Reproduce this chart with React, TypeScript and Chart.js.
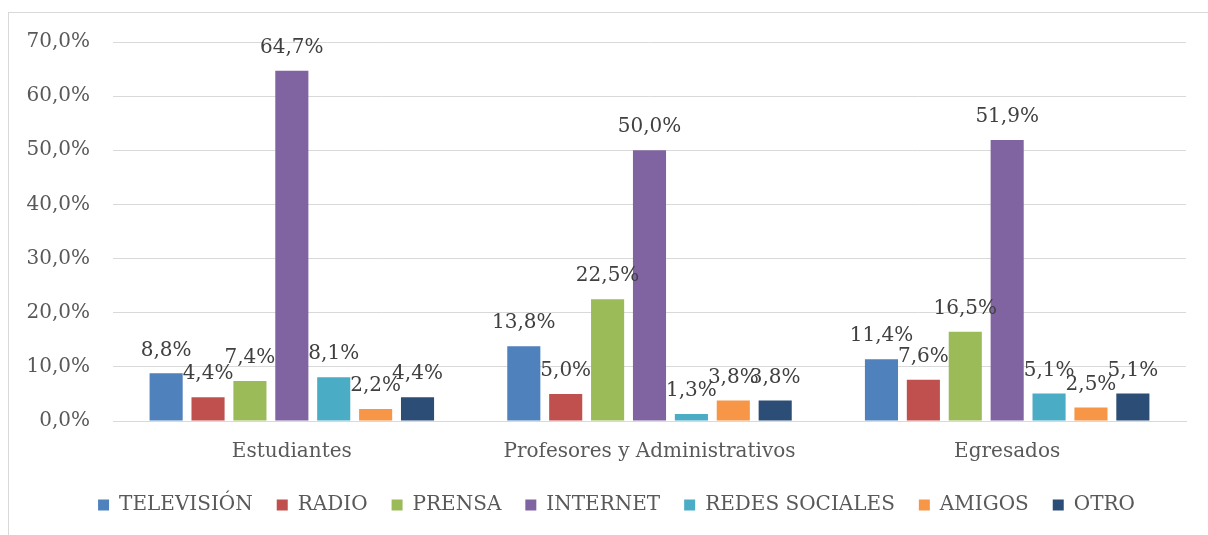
import React, { useEffect, useRef } from "react";
import { Chart, registerables } from "chart.js";

Chart.register(...registerables);

const categories = ["Estudiantes", "Profesores y Administrativos", "Egresados"];
const seriesNames = ["TELEVISIÓN", "RADIO", "PRENSA", "INTERNET", "REDES SOCIALES", "AMIGOS", "OTRO"];
const television = [8.8, 13.8, 11.4];
const radio = [4.4, 5.0, 7.6];
const prensa = [7.4, 22.5, 16.5];
const internet = [64.7, 50.0, 51.9];
const redes = [8.1, 1.3, 5.1];
const amigos = [2.2, 3.8, 2.5];
const otro = [4.4, 3.8, 5.1];
const seriesValues = [television, radio, prensa, internet, redes, amigos, otro];
const seriesColors = ["#4F81BD", "#C0504D", "#9BBB59", "#8064A2", "#4BACC6", "#F79646", "#2C4D75"];
const yTicks = [0, 10, 20, 30, 40, 50, 60, 70];

const FONT = "'DejaVu Serif', serif";
const fmt = (v: number) => v.toFixed(1).replace(".", ",") + "%";

const dataLabels = {
  id: "dataLabels",
  afterLayout(chart: any) {
    const lg = chart.legend;
    if (lg) {
      lg.left += 19;
      lg.right += 19;
    }
  },
  afterDatasetsDraw(chart: any) {
    const ctx = chart.ctx;
    ctx.save();
    ctx.font = `20px ${FONT}`;
    ctx.fillStyle = "#404040";
    ctx.textAlign = "center";
    ctx.textBaseline = "middle";
    chart.data.datasets.forEach((ds: any, i: number) => {
      const meta = chart.getDatasetMeta(i);
      meta.data.forEach((el: any, j: number) => {
        ctx.fillText(fmt(ds.data[j]), el.x, el.y - 23);
      });
    });
    ctx.restore();
  },
};

export default function App() {
  const ref = useRef<HTMLCanvasElement | null>(null);
  useEffect(() => {
    if (!ref.current) return;
    const chart = new Chart(ref.current, {
      type: "bar",
      data: {
        labels: categories,
        datasets: seriesNames.map((name, i) => ({
          label: name,
          data: seriesValues[i],
          backgroundColor: seriesColors[i],
          borderWidth: 0,
          categoryPercentage: 0.82,
          barPercentage: 0.79,
        })),
      },
      options: {
        responsive: false,
        animation: false,
        layout: { padding: { top: 29, right: 22, left: 0, bottom: 10 } },
        font: { family: FONT },
        scales: {
          x: {
            grid: { display: false, drawTicks: false },
            border: { display: true, color: "#d9d9d9" },
            ticks: { color: "#595959", font: { family: FONT, size: 20 }, padding: 19 },
            afterFit: (s: any) => { s.height = 50; s.paddingLeft = 0; s.paddingRight = 0; },
          },
          y: {
            min: 0,
            max: 70,
            afterBuildTicks: (s: any) => { s.ticks = yTicks.map((v) => ({ value: v })); },
            grid: { color: "#d9d9d9", drawTicks: false },
            border: { display: false },
            ticks: {
              color: "#595959",
              font: { family: FONT, size: 20 },
              padding: 23,
              callback: (v: any) => fmt(Number(v)),
            },
            afterFit: (s: any) => { s.width = 104; s.paddingTop = 0; s.paddingBottom = 0; },
          },
        },
        plugins: {
          legend: {
            position: "bottom",
            labels: {
              color: "#595959",
              font: { family: FONT, size: 20 },
              boxWidth: 11,
              boxHeight: 11,
              padding: 24,
            },
          },
          tooltip: { enabled: false },
        },
      },
      plugins: [dataLabels],
    } as any);
    return () => chart.destroy();
  }, []);
  return (
    <div
      style={{
        position: "fixed",
        left: 8,
        top: 12,
        width: 1200,
        height: 523,
        borderLeft: "1px solid #d9d9d9",
        borderTop: "1px solid #d9d9d9",
        boxSizing: "border-box",
        background: "#fff",
      }}
    >
      <canvas ref={ref} width={1199} height={522} style={{ display: "block" }} />
    </div>
  );
}
